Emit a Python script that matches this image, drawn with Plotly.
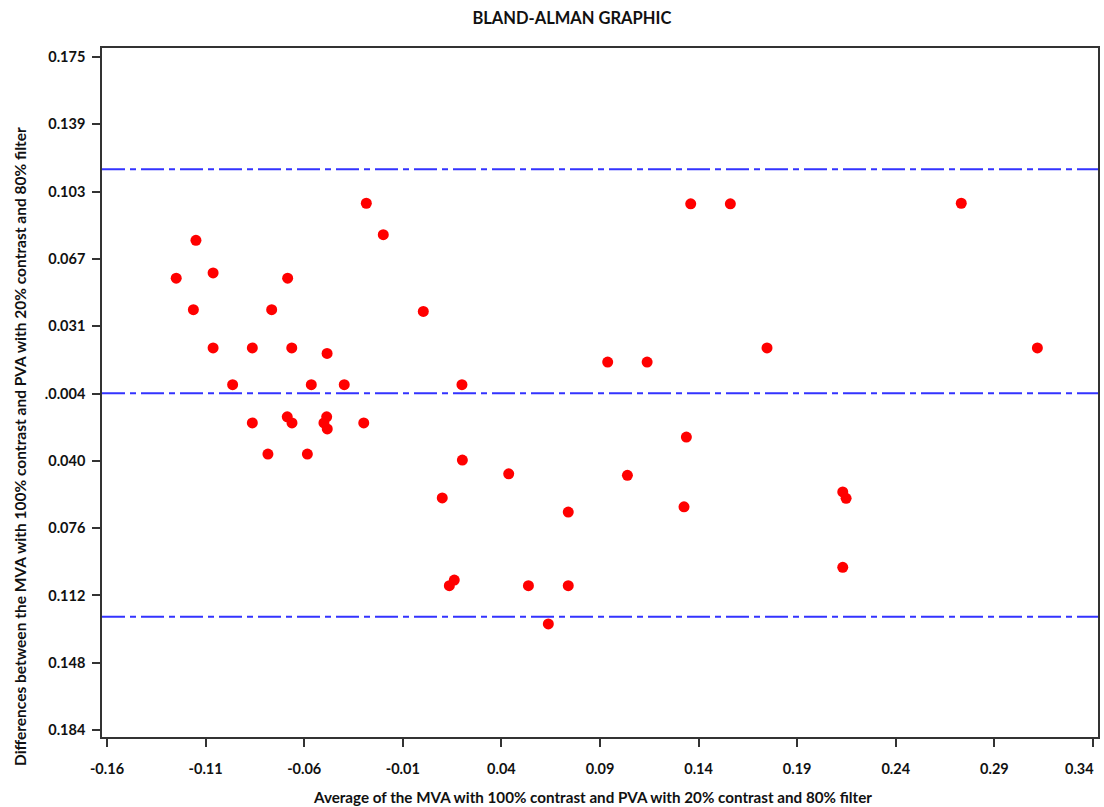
import plotly.graph_objects as go

# Data (average vs difference)
avg_values = [
    -0.1249, -0.1162, -0.1149, -0.1062, -0.1062, -0.0963, -0.0863, -0.0863,
    -0.0784, -0.0765, -0.0684, -0.0686, -0.0662, -0.0663, -0.0584, -0.0564,
    -0.0500, -0.0484, -0.0486, -0.0483, -0.0397, -0.0298, -0.0285, -0.0199,
    0.0004, 0.0100, 0.0136, 0.0161, 0.0202, 0.0200, 0.0437, 0.0537,
    0.0638, 0.0739, 0.0739, 0.0939, 0.1039, 0.1139, 0.1326, 0.1338,
    0.1360, 0.1561, 0.1747, 0.2131, 0.2148, 0.2131, 0.2732, 0.3118,
]
diff_values = [
    0.0570, 0.0402, 0.0772, 0.0598, 0.0198, 0.0002, 0.0198, -0.0202,
    -0.0368, 0.0402, 0.0570, -0.0169, -0.0202, 0.0198, -0.0368, 0.0002,
    -0.0202, 0.0169, -0.0169, -0.0234, 0.0002, -0.0202, 0.0970, 0.0802,
    0.0393, -0.0602, -0.1070, -0.1040, -0.0400, 0.0002, -0.0473, -0.1070,
    -0.1274, -0.0677, -0.1070, 0.0123, -0.0481, 0.0123, -0.0649, -0.0277,
    0.0967, 0.0967, 0.0198, -0.0570, -0.0604, -0.0972, 0.0970, 0.0198,
]

# Reference lines: upper limit, mean, lower limit
limit_lines = [0.1151, -0.0044, -0.1236]

x_tickvals = [-0.16, -0.11, -0.06, -0.01, 0.04, 0.09, 0.14, 0.19, 0.24, 0.29, 0.34]
x_ticktext = ["-0.16", "-0.11", "-0.06", "-0.01", "0.04", "0.09", "0.14", "0.19", "0.24", "0.29", "0.34"]
y_tickvals = [0.175, 0.1391, 0.1032, 0.0673, 0.0314, -0.0045, -0.0404, -0.0763, -0.1122, -0.1481, -0.184]
y_ticktext = ["0.175", "0.139", "0.103", "0.067", "0.031", ".0.004", "0.040", "0.076", "0.112", "0.148", "0.184"]

title_text = "BLAND-ALMAN GRAPHIC"
x_title = "Average of the MVA with 100% contrast and PVA with 20% contrast and 80% filter"
y_title = "Differences between the MVA with 100% contrast and PVA with 20% contrast and 80% filter"

FONT = "Lato"
tick_font = dict(family=FONT, size=14.5, color="#111111", weight="bold")

fig = go.Figure()
fig.add_trace(go.Scatter(
    x=avg_values, y=diff_values, mode="markers",
    marker=dict(color="#ff0000", size=11, line=dict(width=0)),
    showlegend=False, hoverinfo="x+y",
))

for yv in limit_lines:
    fig.add_shape(type="line", xref="paper", x0=0, x1=1, yref="y", y0=yv, y1=yv,
                  line=dict(color="#3333ff", width=2, dash="23px,5px,6px,5px"), layer="below")

axis_common = dict(
    showgrid=False, zeroline=False, showline=True, linecolor="#333333", linewidth=1.5,
    mirror=True, ticks="outside", ticklen=8, tickwidth=1.5, tickcolor="#333333",
    tickfont=tick_font, ticklabeloverflow="allow", automargin=False,
)

# last x tick label is drawn as an annotation so it stays inside the page, as in the reference
x_ticktext_shown = x_ticktext[:-1] + [""]

fig.update_layout(
    width=1104, height=807,
    margin=dict(l=102, r=6, t=48, b=70, autoexpand=False),
    paper_bgcolor="white", plot_bgcolor="white",
    title=dict(text=title_text, xref="container", x=0.518, xanchor="center",
               yref="container", y=1 - 18 / 807, yanchor="middle",
               font=dict(family=FONT, size=16.5, color="#111111", weight="bold")),
    xaxis=dict(range=[-0.16254, 0.34254], tickmode="array", tickvals=x_tickvals,
               ticktext=x_ticktext_shown, ticklabelstandoff=10, **axis_common),
    yaxis=dict(range=[-0.1877, 0.1798], tickmode="array", tickvals=y_tickvals,
               ticktext=y_ticktext, ticklabelstandoff=4, **axis_common),
    annotations=[
        dict(text=x_ticktext[-1], xref="x", yref="paper", x=x_tickvals[-1], xshift=3,
             y=-(768 - 737) / 689, xanchor="right", yanchor="middle", showarrow=False,
             font=tick_font),
        dict(text=x_title, xref="paper", yref="paper", x=(592 - 102) / 996, y=-(797 - 737) / 689,
             xanchor="center", yanchor="middle", showarrow=False,
             font=dict(family=FONT, size=15.2, color="#111111", weight="bold")),
        dict(text=y_title, xref="paper", yref="paper", x=(20 - 102) / 996, y=(737 - 447) / 689,
             xanchor="center", yanchor="middle", showarrow=False, textangle=-90,
             font=dict(family=FONT, size=15.5, color="#111111", weight="bold")),
    ],
)

fig.write_html("out.html", config={"displayModeBar": False},
               post_script="document.body.style.margin='0';document.body.style.padding='0';")
